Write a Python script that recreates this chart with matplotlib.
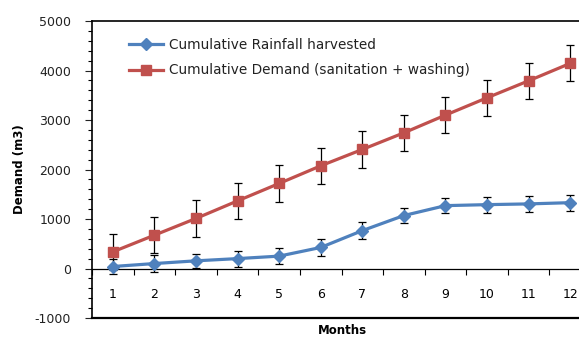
import matplotlib as mpl
mpl.use("Agg")
import matplotlib.pyplot as plt
import numpy as np

months = [1, 2, 3, 4, 5, 6, 7, 8, 9, 10, 11, 12]
rain = [40, 100, 155, 200, 250, 425, 765, 1070, 1270, 1290, 1305, 1330]
rain_err = [160, 180, 140, 160, 160, 165, 165, 150, 155, 160, 160, 160]
demand = [336, 673, 1011, 1366, 1718, 2074, 2405, 2741, 3099, 3449, 3792, 4144]
demand_err = [365, 365, 365, 365, 365, 365, 365, 365, 365, 365, 365, 365]

blue = '#4F81BD'
red = '#C0504D'

plt.rcParams['font.family'] = ['DejaVu Sans']
plt.rcParams['axes.unicode_minus'] = False

fig = plt.figure(figsize=(5.79, 3.38), dpi=100)
# plot area is cut off at the right edge of the picture
ax = fig.add_axes([92/579, 1-318/338, (591-92)/579, (318-21)/338])

ax.errorbar(months, rain, yerr=rain_err, fmt='none', ecolor='black',
            elinewidth=0.9, capsize=3, capthick=0.9, zorder=2)
ax.errorbar(months, demand, yerr=demand_err, fmt='none', ecolor='black',
            elinewidth=0.9, capsize=3, capthick=0.9, zorder=2)
ax.plot(months, rain, color=blue, lw=2.3, marker='D', ms=6.5,
        label='Cumulative Rainfall harvested', zorder=3)
ax.plot(months, demand, color=red, lw=2.3, marker='s', ms=7.5,
        label='Cumulative Demand (sanitation + washing)', zorder=3)

ax.set_xlim(0.5, 12.5)
ax.set_ylim(-1000, 5000)

ax.set_yticks(np.arange(-1000, 5001, 1000))
ax.set_yticks(np.arange(-1000, 5001, 200), minor=True)
ax.tick_params(axis='y', which='major', direction='out', length=5, width=0.8, labelsize=9, pad=10, colors='#222222')
ax.tick_params(axis='y', which='minor', direction='out', length=3, width=0.8)

ax.spines['bottom'].set_position(('data', 0))
ax.set_xticks(months)
ax.set_xticks(np.arange(0.5, 12.6, 1), minor=True)
ax.set_xticklabels([str(m) for m in months])
ax.tick_params(axis='x', which='major', length=0, labelsize=9, pad=14)
ax.tick_params(axis='x', which='minor', direction='out', length=4, width=0.8)
ax.axhline(-1000, color='black', lw=1.6, clip_on=False)

for s in ax.spines.values():
    s.set_linewidth(0.9)
ax.spines['top'].set_linewidth(1.2)
ax.spines['left'].set_linewidth(1.2)

fig.text(20/579, 1-169/338, 'Demand (m3)', fontsize=8.5, fontweight='bold',
         rotation=90, ha='center', va='center')
fig.text(342/579, 1-331/338, 'Months', fontsize=8.5, fontweight='bold', ha='center', va='center')

leg = ax.legend(loc='upper left', bbox_to_anchor=(0.05, 0.985), frameon=False, fontsize=9.8,
                handlelength=2.5, labelspacing=0.85, handletextpad=0.4)
for t in leg.get_texts():
    t.set_color('#222222')

fig.savefig('out.png', dpi=100)
